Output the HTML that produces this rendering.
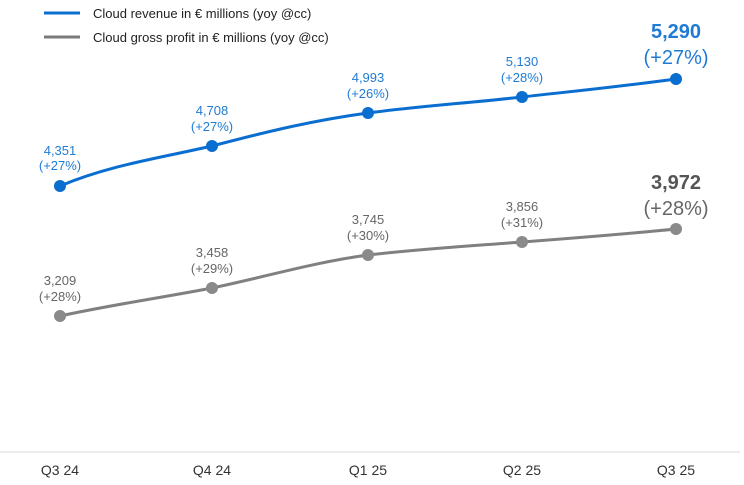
<!DOCTYPE html>
<html><head><meta charset="utf-8"><style>
body{margin:0;background:#fff}
svg{display:block;font-family:"Liberation Sans",Arial,sans-serif}
</style></head><body>
<svg width="744" height="485" viewBox="0 0 744 485">
<line x1="44" y1="13" x2="80" y2="13" stroke="#0a6ed1" stroke-width="3"/>
<text x="93" y="18" font-size="13" fill="#222">Cloud revenue in € millions (yoy @cc)</text>
<line x1="44" y1="37" x2="80" y2="37" stroke="#7a7a7a" stroke-width="3"/>
<text x="93" y="42" font-size="13" fill="#222">Cloud gross profit in € millions (yoy @cc)</text>
<line x1="0" y1="452" x2="740" y2="452" stroke="#d8d8d8" stroke-width="1"/>
<path d="M60,186 C110,165 160,158 212,146 C265,132 315,120 368,113 C420,106 470,103 522,97 C575,91 625,86 676,79" fill="none" stroke="#0a6ed1" stroke-width="3"/>
<path d="M60,316 C110,305 160,298 212,288 C265,277 315,262 368,255 C420,249 470,246 522,242 C575,238 625,234 676,229" fill="none" stroke="#808080" stroke-width="3"/>
<g fill="#0a6ed1"><circle cx="60" cy="186" r="6"/><circle cx="212" cy="146" r="6"/><circle cx="368" cy="113" r="6"/><circle cx="522" cy="97" r="6"/><circle cx="676" cy="79" r="6"/></g>
<g fill="#8a8a8a"><circle cx="60" cy="316" r="6"/><circle cx="212" cy="288" r="6"/><circle cx="368" cy="255" r="6"/><circle cx="522" cy="242" r="6"/><circle cx="676" cy="229" r="6"/></g>
<g font-size="13" fill="#1f7bd6" text-anchor="middle">
<text x="60" y="155">4,351</text><text x="60" y="170">(+27%)</text>
<text x="212" y="115">4,708</text><text x="212" y="131">(+27%)</text>
<text x="368" y="82">4,993</text><text x="368" y="98">(+26%)</text>
<text x="522" y="66">5,130</text><text x="522" y="82">(+28%)</text>
</g>
<g font-size="13" fill="#666" text-anchor="middle">
<text x="60" y="285">3,209</text><text x="60" y="301">(+28%)</text>
<text x="212" y="257">3,458</text><text x="212" y="273">(+29%)</text>
<text x="368" y="224">3,745</text><text x="368" y="240">(+30%)</text>
<text x="522" y="211">3,856</text><text x="522" y="227">(+31%)</text>
</g>
<text x="676" y="38" font-size="20" font-weight="bold" fill="#1f7bd6" text-anchor="middle">5,290</text>
<text x="676" y="64" font-size="20" fill="#1f7bd6" text-anchor="middle">(+27%)</text>
<text x="676" y="189" font-size="20" font-weight="bold" fill="#555" text-anchor="middle">3,972</text>
<text x="676" y="215" font-size="20" fill="#666" text-anchor="middle">(+28%)</text>
<g font-size="14" fill="#333" text-anchor="middle">
<text x="60" y="475">Q3 24</text><text x="212" y="475">Q4 24</text><text x="368" y="475">Q1 25</text><text x="522" y="475">Q2 25</text><text x="676" y="475">Q3 25</text>
</g>
</svg>
</body></html>
